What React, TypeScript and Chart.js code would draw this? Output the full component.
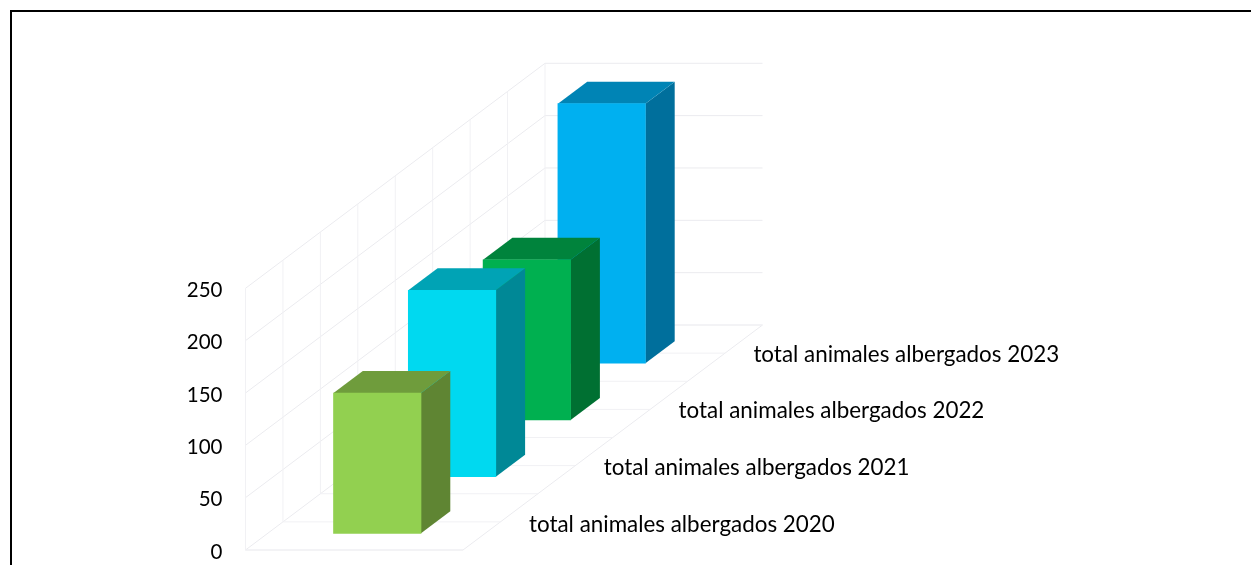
import React, { useEffect, useRef } from "react";
import { Chart, registerables } from "chart.js";

Chart.register(...registerables);

const seriesNames = [
  "total animales albergados 2020",
  "total animales albergados 2021",
  "total animales albergados 2022",
  "total animales albergados 2023",
];
const seriesValues = [134, 178, 153, 248];
const frontColors = ["#92D050", "#00D9F0", "#00B050", "#00B0F0"];
const sideColors = ["#5F8533", "#008896", "#007032", "#006F9C"];
const topColors = ["#6F9C3C", "#00A3B5", "#00833C", "#0084B5"];
const categories = [""];
const FONT = "Lato, Carlito, Calibri, sans-serif";

// Projection of the depth axis, in canvas pixels
const WALL_DX = 299.5;
const WALL_DY = -225;
const DEPTH_DIVISIONS = 8;
const BAR_DEPTH_DX = 29.3;
const BAR_DEPTH_DY = -22;
const SERIES_DX = 74.8;
const SERIES_DY = -56.67;
const FIRST_DX = 23;
const FIRST_DY = -16.7;
const FLOOR_MARGIN = 15;

const line = (ctx: CanvasRenderingContext2D, x1: number, y1: number, x2: number, y2: number) => {
  ctx.beginPath();
  ctx.moveTo(x1, y1);
  ctx.lineTo(x2, y2);
  ctx.stroke();
};
const poly = (ctx: CanvasRenderingContext2D, pts: number[][], color: string) => {
  ctx.fillStyle = color;
  ctx.beginPath();
  pts.forEach(([x, y], i) => (i ? ctx.lineTo(x, y) : ctx.moveTo(x, y)));
  ctx.closePath();
  ctx.fill();
};

const bars3d = {
  id: "bars3d",
  afterLayout(chart: any) {
    const yScale = chart.scales.y;
    const bottom = chart.height - FLOOR_MARGIN;
    yScale.bottom = bottom;
    yScale.height = bottom - yScale.top;
    yScale.configure();
    chart.chartArea.bottom = bottom;
    chart.chartArea.height = bottom - chart.chartArea.top;
  },
  beforeDatasetsDraw(chart: any) {
    const { ctx, scales } = chart;
    const { left, right } = scales.x;
    const yScale = scales.y;
    const y0 = yScale.getPixelForValue(0);
    const yMax = yScale.getPixelForValue(250);
    ctx.save();
    ctx.lineWidth = 1;
    // horizontal value grid on the side wall and back wall
    ctx.strokeStyle = "#EBEBEF";
    (yScale.ticks as { value: number }[]).forEach(({ value }) => {
      const py = yScale.getPixelForValue(value);
      line(ctx, left, py, left + WALL_DX, py + WALL_DY);
      line(ctx, left + WALL_DX, py + WALL_DY, right + WALL_DX, py + WALL_DY);
    });
    // floor outline
    line(ctx, left, y0, right, y0);
    line(ctx, right, y0, right + WALL_DX, y0 + WALL_DY);
    // depth divisions
    ctx.strokeStyle = "#F1F1F4";
    for (let d = 0; d <= DEPTH_DIVISIONS; d++) {
      const fx = (WALL_DX * d) / DEPTH_DIVISIONS;
      const fy = (WALL_DY * d) / DEPTH_DIVISIONS;
      line(ctx, left + fx, y0 + fy, left + fx, yMax + fy);
      line(ctx, left + fx, y0 + fy, right + fx, y0 + fy);
    }
    ctx.restore();
    // depth-axis labels
    ctx.save();
    ctx.font = `22.4px ${FONT}`;
    ctx.fillStyle = "#000000";
    ctx.textAlign = "left";
    ctx.textBaseline = "middle";
    chart.data.datasets.forEach((ds: any, i: number) => {
      ctx.fillText(ds.label, right + 66 + i * SERIES_DX, y0 - 25.5 + i * SERIES_DY);
    });
    ctx.restore();
  },
  beforeDatasetDraw(chart: any, args: any) {
    const { ctx } = chart;
    const i = args.index;
    const bar = args.meta.data[0];
    const { x, y, base, width } = bar.getProps(["x", "y", "base", "width"], true);
    const l = x - width / 2;
    const r = x + width / 2;
    ctx.save();
    ctx.translate(FIRST_DX + i * SERIES_DX, FIRST_DY + i * SERIES_DY);
    poly(ctx, [[r, y], [r + BAR_DEPTH_DX, y + BAR_DEPTH_DY], [r + BAR_DEPTH_DX, base + BAR_DEPTH_DY], [r, base]], sideColors[i]);
    poly(ctx, [[l, y], [l + BAR_DEPTH_DX, y + BAR_DEPTH_DY], [r + BAR_DEPTH_DX, y + BAR_DEPTH_DY], [r, y]], topColors[i]);
  },
  afterDatasetDraw(chart: any) {
    chart.ctx.restore();
  },
};

export default function App() {
  const ref = useRef<HTMLCanvasElement>(null);
  useEffect(() => {
    document.body.style.margin = "0";
    document.body.style.overflow = "hidden";
    const chart = new Chart(ref.current!, {
      type: "bar",
      data: {
        labels: categories,
        datasets: seriesNames.map((label, i) => ({
          label,
          data: [seriesValues[i]],
          backgroundColor: frontColors[i],
          borderWidth: 0,
          clip: false as any,
          grouped: false,
          barThickness: 87.5,
        })),
      },
      options: {
        responsive: false,
        animation: false,
        devicePixelRatio: 1,
        layout: { autoPadding: false, padding: { left: 0, right: 1251 - 463, top: 288.3, bottom: FLOOR_MARGIN } },
        plugins: { legend: { display: false }, title: { display: false }, tooltip: { enabled: false } },
        scales: {
          x: {
            display: true,
            offset: true,
            border: { display: false },
            grid: { display: false, drawTicks: false },
            ticks: { display: false, padding: 0 },
          },
          y: {
            min: 0,
            max: 250,
            afterFit: (s: any) => {
              s.width = 245.5;
            },
            border: { display: false },
            grid: { display: false, drawTicks: false },
            ticks: {
              stepSize: 50,
              padding: 23,
              labelOffset: 2,
              color: "#000000",
              font: { family: FONT, size: 20.5 },
            },
          },
        },
      },
      plugins: [bars3d],
    } as any);
    return () => chart.destroy();
  }, []);
  return (
    <div style={{ position: "fixed", left: 0, top: 0, width: 1251, height: 565, overflow: "hidden", background: "#fff" }}>
      <canvas ref={ref} width={1251} height={565} style={{ display: "block" }} />
      <div
        style={{
          position: "absolute",
          left: 10,
          top: 10,
          width: 1400,
          height: 800,
          borderLeft: "2px solid #000",
          borderTop: "2px solid #000",
          pointerEvents: "none",
        }}
      />
    </div>
  );
}
